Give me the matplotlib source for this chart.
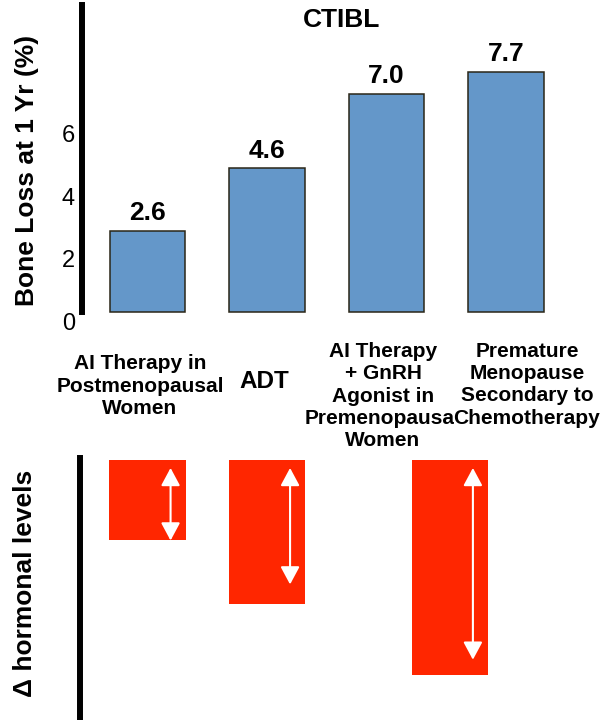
import matplotlib
matplotlib.use("Agg")
import matplotlib.pyplot as plt
import matplotlib.transforms as mtransforms
from matplotlib.patches import FancyArrowPatch

plt.rcParams['font.family'] = ['Liberation Sans', 'DejaVu Sans']

# data
categories = ["AI Therapy in\nPostmenopausal\nWomen", "ADT",
              "AI Therapy\n+ GnRH\nAgonist in\nPremenopausal\nWomen",
              "Premature\nMenopause\nSecondary to\nChemotherapy"]
bone_loss = [2.6, 4.6, 7.0, 7.7]
yticks = [0, 2, 4, 6]
# relative drop in hormone levels (same scale as drawn), last one spans groups 3 and 4
hormone_pos = [0, 1, 2.53]
hormone_drop = [2.6, 4.7, 7.0]
arrow_start = 0.26
arrow_end = [2.62, 4.05, 6.5]

W, H = 603, 720
fig = plt.figure(figsize=(W / 100, H / 100), dpi=100)

x0_px, step_px, unit_px = 147.5, 119.5, 31.2   # layout of the reference


def xlim_for(left_px):
    return ((left_px - x0_px) / step_px, (W - x0_px) / step_px)


# ---- top panel: bone loss ----
ax = fig.add_axes([82 / W, (H - 312) / H, (W - 82) / W, (312 - 5) / H])
ax.set_xlim(*xlim_for(82))
ax.set_ylim(0, (312 - 5) / unit_px)
bars = ax.bar(range(len(bone_loss)), bone_loss, width=0.63, color='#6497c9',
              edgecolor='#2a2617', linewidth=1.1, clip_on=False)
for i, v in enumerate(bone_loss):
    ax.annotate(f"{v:.1f}", (i, v), xytext=(0, 7.5), textcoords='offset points',
                ha='center', va='baseline', fontsize=19, fontweight='bold')

for s in ['top', 'right', 'bottom']:
    ax.spines[s].set_visible(False)
ax.spines['left'].set_linewidth(4.3)
ax.set_xticks([])
ax.set_yticks(yticks)
ax.tick_params(axis='y', length=0, pad=5, labelsize=17)
off = mtransforms.ScaledTranslation(0, -9 / 100, fig.dpi_scale_trans)
for lab in ax.get_yticklabels():
    lab.set_transform(lab.get_transform() + off)

# category labels under the bars
label_dx = [-5.4, -2.2, -2.5, 15.1]
label_dy = [-53.3, -50.4, -60.5, -52.3]
for i, lab in enumerate(categories):
    big = lab == "ADT"
    t = ax.annotate(lab, (i, 0), xycoords=('data', 'axes fraction'),
                    xytext=(label_dx[i], label_dy[i]), textcoords='offset points',
                    ha='center', va='center', fontsize=17.5 if big else 15,
                    fontweight='bold', linespacing=1.22, annotation_clip=False,
                    zorder=3 + i)
    if i == 3:
        t.set_bbox(dict(facecolor='white', edgecolor='none', pad=0))

fig.text(342 / W, 1 - 20 / H, "CTIBL", ha='center', va='center',
         fontsize=19, fontweight='bold')
fig.text(27 / W, 1 - 170 / H, "Bone Loss at 1 Yr (%)", rotation=90,
         ha='center', va='center', fontsize=19, fontweight='bold')

# ---- bottom panel: change in hormone levels ----
ax2 = fig.add_axes([80 / W, 0, (W - 80) / W, (H - 458) / H])
ax2.set_xlim(*xlim_for(80))
ax2.set_ylim((H - 456) / unit_px, -2 / unit_px)
ax2.bar(hormone_pos, hormone_drop, width=0.64, color='#ff2600')
for p, e in zip(hormone_pos, arrow_end):
    xa = p + 0.193
    arr = FancyArrowPatch((xa, arrow_start), (xa, e),
                          arrowstyle='<|-|>,head_length=10.8,head_width=5.8',
                          mutation_scale=1, color='white', lw=1.5,
                          shrinkA=0, shrinkB=0)
    ax2.add_patch(arr)
for s in ['top', 'right', 'bottom']:
    ax2.spines[s].set_visible(False)
ax2.spines['left'].set_linewidth(4.3)
ax2.set_xticks([])
ax2.set_yticks([])

fig.text(25 / W, 1 - 583 / H, "\u0394 hormonal levels", rotation=90,
         ha='center', va='center', fontsize=19, fontweight='bold')

fig.savefig("out.png", dpi=100)
